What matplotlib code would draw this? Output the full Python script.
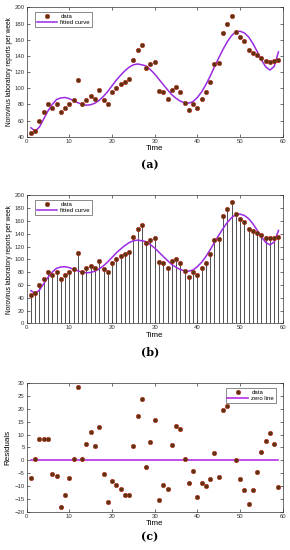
import matplotlib
matplotlib.use("Agg")
import matplotlib.pyplot as plt
import numpy as np

plt.rcParams["font.family"] = ["Liberation Sans", "DejaVu Sans"]

# weekly data
weeks = np.arange(1, 60)
reports = [45, 47, 60, 70, 80, 75, 80, 70, 75, 80, 85, 110, 80, 86, 90, 87, 98, 85, 80, 95,
           100, 105, 108, 112, 135, 147, 153, 125, 130, 133, 96, 95, 87, 98, 101, 95, 82, 73, 80, 75,
           87, 95, 108, 130, 131, 168, 179, 190, 170, 163, 158, 147, 144, 141, 138, 134, 133, 134, 135]
fitted = [51, 47, 52, 62, 72, 80, 86, 88, 88.5, 87, 84.5, 82, 80, 79, 79.5, 81.5, 85, 90, 96, 103,
          110, 116, 121.5, 126, 129, 130, 129, 127.5, 123, 117.5, 111, 104.5, 98, 92, 87.5, 84, 82, 81.5, 83.5, 88.5,
          95.5, 104.5, 115, 126.5, 137.5, 148, 157.5, 165, 170, 170.5, 168.5, 163.5, 155.5, 145.5, 135, 126.5, 122.5, 127, 145]
residuals = [-6.8, 0.6, 8.1, 8.2, 8.1, -5.5, -6.0, -18.3, -13.6, -6.9, 0.6, 28.4, 0.4, 6.4, 11.0, 5.6, 12.9, -5.3, -16.2, -8.0,
             -9.6, -11.2, -13.6, -13.7, 5.4, 17.3, 24.0, -2.7, 7.3, 15.6, -15.3, -9.7, -11.0, 6.1, 13.2, 12.0, 0.5, -8.7, -4.2, -14.1,
             -9.0, -9.9, -7.2, 2.7, -6.5, 19.6, 21.3, 25.0, 0.2, -7.4, -11.4, -16.9, -11.5, -4.5, 3.1, 7.6, 10.5, 6.5, -10.5]

MFACE = "#5a3510"; MEDGE = "#c0281e"; CURVE = "#9a2be2"; ZERO = "#b01ee0"
FS_TICK = 4.3; FS_LAB = 5.8

fig = plt.figure(figsize=(2.9, 5.5), dpi=100)
fig.patch.set_facecolor("white")
ax_a = fig.add_axes([0.092, 0.7515, 0.883, 0.235])
ax_b = fig.add_axes([0.092, 0.412, 0.883, 0.233])
ax_c = fig.add_axes([0.092, 0.0697, 0.883, 0.2335])


def style(ax, ylim, yticks):
    ax.set_xlim(0, 60)
    ax.set_ylim(*ylim)
    ax.set_xticks(range(0, 61, 10))
    ax.set_yticks(yticks)
    ax.tick_params(direction="in", top=True, right=True, length=2, width=0.4,
                   labelsize=FS_TICK, labelcolor="#333333", pad=1.5)
    for s in ax.spines.values():
        s.set_linewidth(0.5)
        s.set_color("#333333")
    ax.set_xlabel("Time", fontsize=FS_LAB, labelpad=1)


def dots(ax, y, label):
    ax.plot(weeks, y, "o", ms=3.2, mfc=MFACE, mec=MEDGE, mew=0.4, ls="none", label=label, zorder=4)


def legend(ax, loc, anchor, labels_line):
    lg = ax.legend(loc=loc, fontsize=4.3, frameon=True, fancybox=False, edgecolor="#333333",
                   framealpha=1, handlelength=3.4, borderpad=0.3, labelspacing=0.1,
                   handletextpad=0.6, bbox_to_anchor=anchor)
    lg.get_frame().set_linewidth(0.4)


# (a)
dots(ax_a, reports, "data")
ax_a.plot(weeks, fitted, color=CURVE, lw=1.1, label="fitted curve", zorder=3)
style(ax_a, (40, 200), range(40, 201, 20))
ax_a.set_ylabel("Norovirus laboratory reports per week", fontsize=4.7, labelpad=1)
legend(ax_a, "upper left", (0.02, 0.985), True)

# (b)
ax_b.vlines(weeks, 0, reports, color="#333333", lw=0.6, zorder=2)
dots(ax_b, reports, "data")
ax_b.plot(weeks, fitted, color=CURVE, lw=1.1, label="fitted curve", zorder=3)
style(ax_b, (0, 200), range(0, 201, 20))
ax_b.set_ylabel("Norovirus laboratory reports per week", fontsize=4.7, labelpad=1)
legend(ax_b, "upper left", (0.02, 0.985), True)

# (c)
dots(ax_c, residuals, "data")
ax_c.plot([1, 59], [0, 0], color=ZERO, lw=1.1, label="zero line", zorder=3)
style(ax_c, (-20, 30), range(-20, 31, 5))
ax_c.set_ylabel("Residuals", fontsize=FS_LAB, labelpad=2)
legend(ax_c, "upper right", (0.985, 0.985), True)

for lab, y in [("(a)", 165), ("(b)", 352), ("(c)", 537)]:
    fig.text(150 / 290, 1 - y / 550, lab, ha="center", va="center", fontsize=8,
             fontweight="bold", family="DejaVu Serif")

fig.savefig("out.png", dpi=100, facecolor="white")
